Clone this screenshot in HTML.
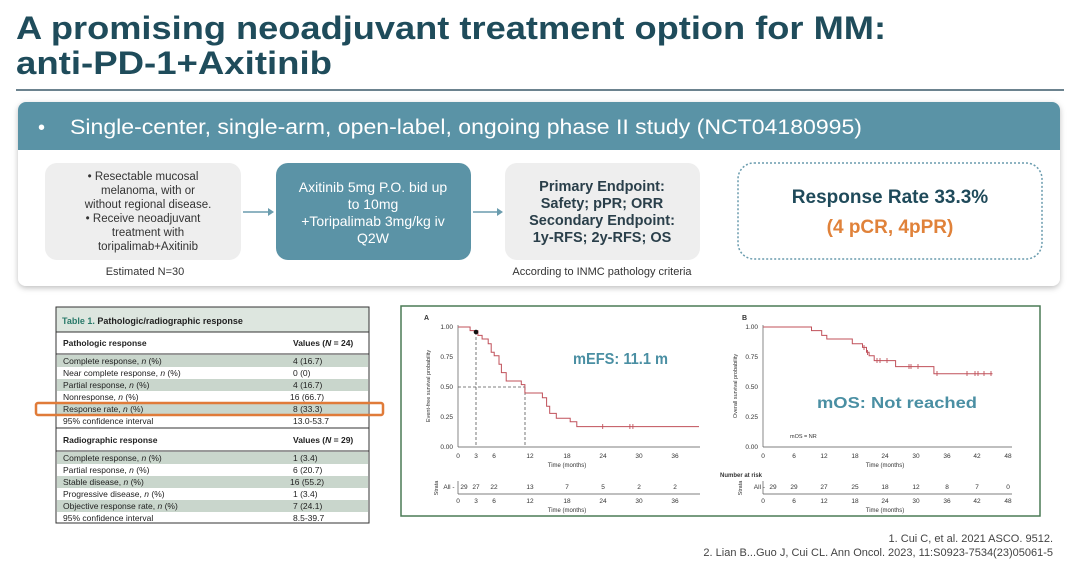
<!DOCTYPE html>
<html><head><meta charset="utf-8"><style>
body{margin:0;width:1080px;height:564px;overflow:hidden;background:#fff;font-family:"Liberation Sans",sans-serif}
</style></head><body>
<svg width="1080" height="564" viewBox="0 0 1080 564" xmlns="http://www.w3.org/2000/svg" font-family="Liberation Sans, sans-serif">
<defs><filter id="sh" x="-5%" y="-5%" width="110%" height="115%"><feDropShadow dx="0" dy="2" stdDeviation="3" flood-color="#000" flood-opacity="0.25"/></filter></defs>
<text x="16" y="39" font-size="32" font-weight="bold" fill="#1f4c5b" textLength="870" lengthAdjust="spacingAndGlyphs">A promising neoadjuvant treatment option for MM:</text>
<text x="16" y="74" font-size="32" font-weight="bold" fill="#1f4c5b" textLength="316" lengthAdjust="spacingAndGlyphs">anti-PD-1+Axitinib</text>
<line x1="16" y1="90" x2="1064" y2="90" stroke="#3b5a6a" stroke-width="1.5"/>
<rect x="18" y="102" width="1042" height="184" rx="8" fill="#fff" filter="url(#sh)"/>
<path d="M18,150 V110 a8,8 0 0 1 8,-8 H1052 a8,8 0 0 1 8,8 V150 Z" fill="#5a93a6"/>
<text x="38" y="134" font-size="20" fill="#fff">•</text>
<text x="70" y="134" font-size="21" fill="#fff" textLength="792" lengthAdjust="spacingAndGlyphs">Single-center, single-arm, open-label, ongoing phase II study (NCT04180995)</text>
<rect x="45" y="163" width="196" height="97" rx="12" fill="#eeeeee"/>
<g font-size="11.5" fill="#333" text-anchor="middle">
<text x="143" y="180">•  Resectable mucosal</text><text x="148" y="194">melanoma, with or</text><text x="148" y="208">without regional disease.</text>
<text x="143" y="222">•  Receive neoadjuvant</text><text x="148" y="236">treatment with</text><text x="148" y="250">toripalimab+Axitinib</text>
<text x="145" y="275" font-size="11">Estimated N=30</text>
<text x="602" y="275" font-size="11">According to INMC pathology criteria</text>
</g>
<line x1="243" y1="212" x2="270" y2="212" stroke="#6a9cae" stroke-width="1.5"/><path d="M268,208 L274,212 L268,216Z" fill="#6a9cae"/>
<rect x="276" y="163" width="195" height="97" rx="12" fill="#5b93a6"/>
<g font-size="14" fill="#fff" text-anchor="middle"><text x="373" y="192">Axitinib 5mg P.O. bid up</text><text x="373" y="209">to 10mg</text><text x="373" y="226">+Toripalimab 3mg/kg iv</text><text x="373" y="243">Q2W</text></g>
<line x1="473" y1="212" x2="499" y2="212" stroke="#6a9cae" stroke-width="1.5"/><path d="M497,208 L503,212 L497,216Z" fill="#6a9cae"/>
<rect x="505" y="163" width="195" height="97" rx="12" fill="#eeeeee"/>
<g font-size="14.5" font-weight="bold" fill="#2a3f4a" text-anchor="middle"><text x="602" y="191">Primary Endpoint:</text><text x="602" y="208">Safety; pPR; ORR</text><text x="602" y="225">Secondary Endpoint:</text><text x="602" y="242">1y-RFS; 2y-RFS; OS</text></g>
<rect x="738" y="163" width="304" height="96" rx="16" fill="none" stroke="#6a9cae" stroke-width="1.5" stroke-dasharray="2,2"/>
<text x="890" y="203" font-size="19" font-weight="bold" fill="#1f4a5a" text-anchor="middle">Response Rate 33.3%</text>
<text x="890" y="233" font-size="19" font-weight="bold" fill="#e0823a" text-anchor="middle">(4 pCR, 4pPR)</text>

<rect x="56" y="307" width="313" height="216" fill="#fff" stroke="#333" stroke-width="1"/>
<rect x="56" y="307" width="313" height="25" fill="#dde6df" stroke="#333"/>
<text x="62" y="324" font-size="9" font-weight="bold" fill="#222"><tspan fill="#2a7a6a">Table 1.</tspan> Pathologic/radiographic response</text>
<line x1="56" y1="354" x2="369" y2="354" stroke="#333"/>
<line x1="56" y1="428" x2="369" y2="428" stroke="#333"/>
<line x1="56" y1="451" x2="369" y2="451" stroke="#333"/>
<g fill="#c9d6cc"><rect x="57" y="355" width="311" height="12"/><rect x="57" y="379" width="311" height="12"/><rect x="57" y="403" width="311" height="12"/>
<rect x="57" y="452" width="311" height="12"/><rect x="57" y="476" width="311" height="12"/><rect x="57" y="500" width="311" height="12"/></g>
<g font-size="8.5" fill="#222">
<text x="63" y="346" font-weight="bold">Pathologic response</text><text x="293" y="346" font-weight="bold">Values (<tspan font-style="italic">N</tspan> = 24)</text>
<text x="63" y="364">Complete response, <tspan font-style="italic">n</tspan> (%)</text><text x="293" y="364">4 (16.7)</text>
<text x="63" y="376">Near complete response, <tspan font-style="italic">n</tspan> (%)</text><text x="293" y="376">0 (0)</text>
<text x="63" y="388">Partial response, <tspan font-style="italic">n</tspan> (%)</text><text x="293" y="388">4 (16.7)</text>
<text x="63" y="400">Nonresponse, <tspan font-style="italic">n</tspan> (%)</text><text x="290" y="400">16 (66.7)</text>
<text x="63" y="412">Response rate, <tspan font-style="italic">n</tspan> (%)</text><text x="293" y="412">8 (33.3)</text>
<text x="63" y="424">95% confidence interval</text><text x="293" y="424">13.0-53.7</text>
<text x="63" y="443" font-weight="bold">Radiographic response</text><text x="293" y="443" font-weight="bold">Values (<tspan font-style="italic">N</tspan> = 29)</text>
<text x="63" y="461">Complete response, <tspan font-style="italic">n</tspan> (%)</text><text x="293" y="461">1 (3.4)</text>
<text x="63" y="473">Partial response, <tspan font-style="italic">n</tspan> (%)</text><text x="293" y="473">6 (20.7)</text>
<text x="63" y="485">Stable disease, <tspan font-style="italic">n</tspan> (%)</text><text x="290" y="485">16 (55.2)</text>
<text x="63" y="497">Progressive disease, <tspan font-style="italic">n</tspan> (%)</text><text x="293" y="497">1 (3.4)</text>
<text x="63" y="509">Objective response rate, <tspan font-style="italic">n</tspan> (%)</text><text x="293" y="509">7 (24.1)</text>
<text x="63" y="521">95% confidence interval</text><text x="293" y="521">8.5-39.7</text>
</g>
<rect x="36" y="403" width="347" height="12" rx="2" fill="none" stroke="#e07b39" stroke-width="2.5"/>

<rect x="401" y="306" width="639" height="210" fill="#fff" stroke="#4a7a55" stroke-width="1.5"/>
<g font-size="6.5" fill="#333">
<text x="424" y="320" font-weight="bold" font-size="7">A</text><text x="742" y="320" font-weight="bold" font-size="7">B</text>
<line x1="458" y1="325" x2="458" y2="447" stroke="#555" stroke-width="0.7"/><line x1="458" y1="447" x2="700" y2="447" stroke="#555" stroke-width="0.7"/>
<g text-anchor="end"><text x="453" y="329">1.00</text><text x="453" y="359">0.75</text><text x="453" y="389">0.50</text><text x="453" y="419">0.25</text><text x="453" y="449">0.00</text>
<text x="758" y="329">1.00</text><text x="758" y="359">0.75</text><text x="758" y="389">0.50</text><text x="758" y="419">0.25</text><text x="758" y="449">0.00</text></g>
<g text-anchor="middle">
<text x="458" y="458">0</text><text x="476" y="458">3</text><text x="494" y="458">6</text><text x="530" y="458">12</text><text x="567" y="458">18</text><text x="603" y="458">24</text><text x="639" y="458">30</text><text x="675" y="458">36</text>
<text x="567" y="467" font-size="6">Time (months)</text>
<text x="763" y="458">0</text><text x="794" y="458">6</text><text x="824" y="458">12</text><text x="855" y="458">18</text><text x="885" y="458">24</text><text x="916" y="458">30</text><text x="947" y="458">36</text><text x="977" y="458">42</text><text x="1008" y="458">48</text>
<text x="885" y="467" font-size="6">Time (months)</text>
<text transform="translate(430,386) rotate(-90)" font-size="5.5">Event-free survival probability</text>
<text transform="translate(737,386) rotate(-90)" font-size="5.5">Overall survival probability</text>
</g>
<line x1="763" y1="325" x2="763" y2="447" stroke="#555" stroke-width="0.7"/><line x1="763" y1="447" x2="1012" y2="447" stroke="#555" stroke-width="0.7"/>
<g stroke="#555" stroke-width="0.8" stroke-dasharray="3,2" fill="none"><path d="M458,387 H525"/><path d="M476,332 V447"/><path d="M525,387 V447"/></g>
<path d="M458,327 H470.1 V330.6 H477.9 V335.4 H482.1 V339 H488.2 V343.8 H491.2 V352.2 H494.2 V355.8 H499 V364.2 H501.4 V372.6 H506.2 V381 H521.3 V384.6 H524.9 V393 H542.4 V397.8 H546.6 V406.2 H549.7 V413.4 H556.3 V418.2 H570.2 V421.8 H576.8 V426.6 H699" fill="none" stroke="#c0505a" stroke-width="1"/>
<circle cx="476" cy="332" r="2.3" fill="#111"/>
<g stroke="#c0505a" stroke-width="0.9"><path d="M602.7,424 v5 M629.9,424 v5 M632.9,424 v5"/>
<path d="M864,345 v5 M867.5,350 v5 M877,358 v5 M880,358 v5 M887,358 v5 M909,364 v5 M911,364 v5 M918,364 v5 M937,371 v5 M967,371 v5 M975,371 v5 M978,371 v5 M984,371 v5 M991,371 v5"/></g>
<path d="M763,327 H811.5 V330.6 H821.7 V335.4 H826.8 V339 H852.3 V343.8 H862.5 V347.4 H866.5 V352.2 H869.1 V355.8 H874.2 V360.6 H895.6 V366.6 H933.9 V373.8 H992.5" fill="none" stroke="#c0505a" stroke-width="1"/>
<text x="790" y="438" font-size="5.5">mOS = NR</text>
<text x="720" y="477" font-size="6" font-weight="bold">Number at risk</text>
<g text-anchor="middle">
<text x="449" y="489">All -</text><text x="765" y="489" text-anchor="end">All -</text>
<text x="464" y="489">29</text><text x="476" y="489">27</text><text x="494" y="489">22</text><text x="530" y="489">13</text><text x="567" y="489">7</text><text x="603" y="489">5</text><text x="639" y="489">2</text><text x="675" y="489">2</text>
<text x="773" y="489">29</text><text x="794" y="489">29</text><text x="824" y="489">27</text><text x="855" y="489">25</text><text x="885" y="489">18</text><text x="916" y="489">12</text><text x="947" y="489">8</text><text x="977" y="489">7</text><text x="1008" y="489">0</text>
<text x="458" y="503">0</text><text x="476" y="503">3</text><text x="494" y="503">6</text><text x="530" y="503">12</text><text x="567" y="503">18</text><text x="603" y="503">24</text><text x="639" y="503">30</text><text x="675" y="503">36</text>
<text x="567" y="512" font-size="6">Time (months)</text>
<text x="763" y="503">0</text><text x="794" y="503">6</text><text x="824" y="503">12</text><text x="855" y="503">18</text><text x="885" y="503">24</text><text x="916" y="503">30</text><text x="947" y="503">36</text><text x="977" y="503">42</text><text x="1008" y="503">48</text>
<text x="885" y="512" font-size="6">Time (months)</text>
<text transform="translate(438,488) rotate(-90)" font-size="5.5">Strata</text>
<text transform="translate(742,488) rotate(-90)" font-size="5.5">Strata</text>
</g>
<line x1="458" y1="494" x2="700" y2="494" stroke="#555" stroke-width="0.7"/><line x1="458" y1="481" x2="458" y2="494" stroke="#555" stroke-width="0.7"/>
<line x1="763" y1="494" x2="1012" y2="494" stroke="#555" stroke-width="0.7"/><line x1="763" y1="481" x2="763" y2="494" stroke="#555" stroke-width="0.7"/>
</g>
<text x="573" y="364" font-size="16" font-weight="bold" fill="#4a8fa3" textLength="95" lengthAdjust="spacingAndGlyphs">mEFS: 11.1 m</text>
<text x="817" y="408" font-size="16" font-weight="bold" fill="#4a8fa3" textLength="160" lengthAdjust="spacingAndGlyphs">mOS: Not reached</text>

<g font-size="11" fill="#444" text-anchor="end"><text x="1053" y="542">1. Cui C, et al. 2021 ASCO. 9512.</text><text x="1053" y="556">2. Lian B...Guo J, Cui CL. Ann Oncol. 2023, 11:S0923-7534(23)05061-5</text></g>
</svg>
</body></html>
